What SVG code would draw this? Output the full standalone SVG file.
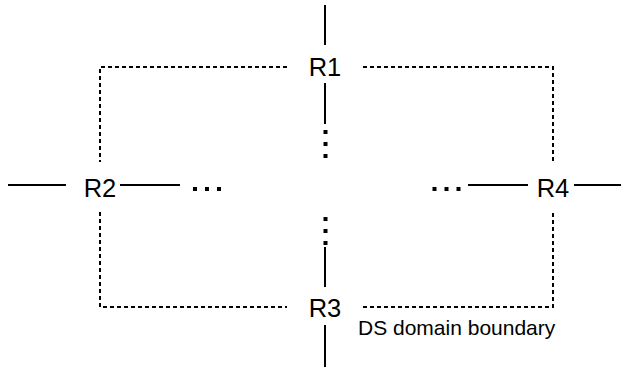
<svg xmlns="http://www.w3.org/2000/svg" width="627" height="368" viewBox="0 0 627 368">
<style>
.lbl{font-family:"Liberation Sans",Arial,sans-serif;font-size:25.5px;fill:#000;text-anchor:middle}
.note{font-family:"Liberation Sans",Arial,sans-serif;font-size:21px;fill:#000}
.ln{stroke:#000;stroke-width:2;fill:none}
.bd{stroke:#000;stroke-width:2;fill:none;stroke-dasharray:4 3}
.dots{stroke:#000;stroke-width:4;fill:none;stroke-dasharray:4 8}
</style>
<rect width="627" height="368" fill="#fff"/>
<g id="boundary">
<path class="bd" d="M287 67H100V162M100 212V307H287"/>
<path class="bd" d="M363 67H553V161M553 213V307H363"/>
</g>
<g id="connectors">
<line class="ln" x1="325" y1="5" x2="325" y2="45"/>
<line class="ln" x1="325" y1="83" x2="325" y2="124"/>
<line class="dots" x1="325.5" y1="130" x2="325.5" y2="160"/>
<line class="dots" x1="325.5" y1="217" x2="325.5" y2="247" stroke-dasharray="4 7"/>
<line class="ln" x1="325" y1="247" x2="325" y2="287"/>
<line class="ln" x1="325" y1="325" x2="325" y2="367"/>
<line class="ln" x1="8" y1="185" x2="66" y2="185"/>
<line class="ln" x1="120" y1="185" x2="180" y2="185"/>
<line class="dots" x1="193" y1="189" x2="225" y2="189"/>
<line class="dots" x1="432.5" y1="189" x2="464" y2="189"/>
<line class="ln" x1="468" y1="185" x2="528" y2="185"/>
<line class="ln" x1="574" y1="185" x2="621" y2="185"/>
</g>
<g id="R1"><text class="lbl" x="325" y="76">R1</text></g>
<g id="R2"><text class="lbl" x="100" y="197">R2</text></g>
<g id="R3"><text class="lbl" x="325" y="317">R3</text></g>
<g id="R4"><text class="lbl" x="553" y="197">R4</text></g>
<text class="note" x="358" y="335">DS domain boundary</text>
</svg>
